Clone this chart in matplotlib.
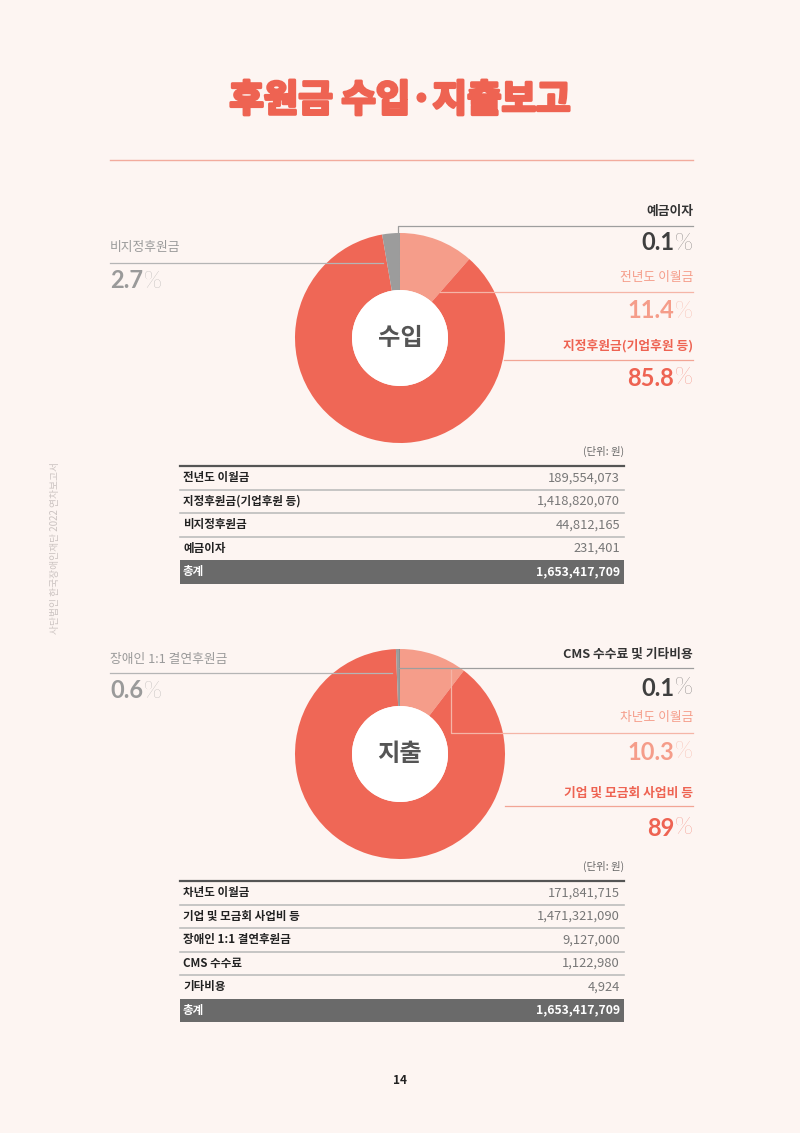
import matplotlib
matplotlib.use('Agg')
import matplotlib.pyplot as plt
import matplotlib.patheffects as pe
from matplotlib.patches import Circle, Rectangle

# ---------------- data ----------------
title = '후원금 수입·지출보고'
side_text = '사단법인 한국장애인재단 2022 연차보고서'
unit_text = '(단위: 원)'
page_no = '14'

income_center = '수입'
income_labels = ['전년도 이월금', '지정후원금(기업후원 등)', '비지정후원금', '예금이자']
income_values = [189554073, 1418820070, 44812165, 231401]
income_total = 1653417709
income_pcts = ['11.4', '85.8', '2.7', '0.1']

expense_center = '지출'
expense_table_labels = ['차년도 이월금', '기업 및 모금회 사업비 등', '장애인 1:1 결연후원금',
                        'CMS 수수료', '기타비용']
expense_table_values = [171841715, 1471321090, 9127000, 1122980, 4924]
expense_total = 1653417709
expense_pie_labels = ['차년도 이월금', '기업 및 모금회 사업비 등', '장애인 1:1 결연후원금',
                      'CMS 수수료 및 기타비용']
expense_pie_values = expense_table_values[:3] + [expense_table_values[3] + expense_table_values[4]]
expense_pcts = ['10.3', '89', '0.6', '0.1']

# ---------------- style ----------------
BG = '#FDF5F2'
RED = '#EF6756'
SALMON = '#F59D8A'
GRAY = '#9C9C9C'
DARK = '#474747'
TITLE_C = '#EE6352'
KR = ['Noto Sans CJK KR', 'DejaVu Sans']
NUM = ['Lato', 'Noto Sans CJK KR', 'DejaVu Sans']

W, H = 800, 1133
fig = plt.figure(figsize=(W / 100, H / 100), dpi=100, facecolor=BG)
ax = fig.add_axes([0, 0, 1, 1])
ax.set_facecolor(BG)
renderer = fig.canvas.get_renderer()

# title + rule
ax.text(400, 100, title, ha='center', va='center', fontsize=27, fontweight='heavy',
        color=TITLE_C, family=KR,
        path_effects=[pe.Stroke(linewidth=2.2, foreground=TITLE_C), pe.Normal()])
ax.plot([110, 693], [160, 160], color='#F2AB9D', lw=1)

# side vertical text
ax.text(55, 548, side_text, rotation=90, ha='center', va='center', fontsize=7,
        color='#CBC3C1', family=KR)


def pct_text(x, y, num, color, align='right', size=17):
    if align == 'right':
        t = ax.text(x, y, '%', ha='right', va='center', fontsize=size, fontweight='light',
                    color=color, family=NUM)
        w = t.get_window_extent(renderer=renderer).width
        ax.text(x - w - 1, y, num, ha='right', va='center', fontsize=size,
                fontweight='bold', color=color, family=NUM)
    else:
        t = ax.text(x, y, num, ha='left', va='center', fontsize=size, fontweight='bold',
                    color=color, family=NUM)
        w = t.get_window_extent(renderer=renderer).width
        ax.text(x + w + 1, y, '%', ha='left', va='center', fontsize=size,
                fontweight='light', color=color, family=NUM)


def label_text(x, y, s, color, ha, weight='bold'):
    ax.text(x, y, s, ha=ha, va='center', fontsize=9.2, fontweight=weight, color=color,
            family=KR)


def donut(cx, cy, values, colors, center_label):
    ax.pie(values, colors=colors, center=(cx, cy), radius=105, startangle=-90,
           counterclock=True, frame=True,
           wedgeprops=dict(width=57, linewidth=0))
    ax.add_patch(Circle((cx, cy), 48, facecolor='white', edgecolor='none', zorder=3))
    ax.text(cx, cy, center_label, ha='center', va='center', fontsize=17.5,
            fontweight='bold', color='#555555', family=KR, zorder=4)


def table(top, labels, values, total):
    row_h = 23.5
    ax.text(624, top - 15, unit_text, ha='right', va='center', fontsize=7.5,
            color='#666666', family=KR)
    n = len(labels)
    for i, (lab, val) in enumerate(zip(labels, values)):
        yc = top + (i + 0.5) * row_h
        ax.text(183, yc, lab, ha='left', va='center', fontsize=8.3, fontweight='bold',
                color='#222222', family=KR)
        ax.text(620, yc, f'{val:,}', ha='right', va='center', fontsize=9.3,
                color='#777777', family=KR)
        if i > 0:
            ax.plot([180, 624], [top + i * row_h] * 2, color='#BDBDBD', lw=1.2)
    ax.plot([180, 624], [top, top], color='#555555', lw=1.6)
    ty = top + n * row_h
    ax.add_patch(Rectangle((180, ty), 444, row_h, facecolor='#6A6A6A', edgecolor='none'))
    ax.text(183, ty + row_h / 2, '총계', ha='left', va='center', fontsize=8.3,
            fontweight='bold', color='white', family=KR)
    ax.text(620, ty + row_h / 2, f'{total:,}', ha='right', va='center', fontsize=8.8,
            fontweight='bold', color='white', family=KR)


# ---------------- income ----------------
inc_colors = [SALMON, RED, GRAY, DARK]
donut(400, 338, income_values, inc_colors, income_center)

# leader lines
ax.plot([398, 398, 693], [234, 226, 226], color='#9E9E9E', lw=0.9, zorder=5)
ax.plot([440, 693], [292, 292], color='#F5B5A7', lw=0.9, zorder=5)
ax.plot([504, 693], [360, 360], color='#F2A595', lw=0.9, zorder=5)
ax.plot([110, 383], [263, 263], color='#B5B5B5', lw=0.9, zorder=5)

label_text(693, 211, income_labels[3], '#333333', 'right')
pct_text(693, 243, income_pcts[3], '#3F3F3F')
label_text(693, 277, income_labels[0], '#F59D8A', 'right', 'medium')
pct_text(693, 311, income_pcts[0], '#F59D8A')
label_text(693, 346, income_labels[1], '#EE6352', 'right')
pct_text(693, 378, income_pcts[1], '#EE6352')
label_text(110, 248, income_labels[2], '#9A9A9A', 'left', 'medium')
pct_text(110, 281, income_pcts[2], '#9A9A9A', align='left')

table(466, income_labels, income_values, income_total)

# ---------------- expense ----------------
exp_colors = [SALMON, RED, GRAY, DARK]
donut(400, 754, expense_pie_values, exp_colors, expense_center)

ax.plot([398, 693], [668, 668], color='#9E9E9E', lw=0.9, zorder=5)
ax.plot([451, 451, 693], [670, 733, 733], color='#F5B5A7', lw=0.9, zorder=5)
ax.plot([505, 693], [806, 806], color='#F2A595', lw=0.9, zorder=5)
ax.plot([110, 392], [673, 673], color='#B5B5B5', lw=0.9, zorder=5)

label_text(693, 654, expense_pie_labels[3], '#333333', 'right')
pct_text(693, 688, expense_pcts[3], '#3F3F3F')
label_text(693, 718, expense_pie_labels[0], '#F59D8A', 'right', 'medium')
pct_text(693, 752, expense_pcts[0], '#F59D8A')
label_text(693, 793, expense_pie_labels[1], '#EE6352', 'right')
pct_text(693, 828, expense_pcts[1], '#EE6352')
label_text(110, 659, expense_pie_labels[2], '#9A9A9A', 'left', 'medium')
pct_text(110, 691, expense_pcts[2], '#9A9A9A', align='left')

table(881, expense_table_labels, expense_table_values, expense_total)

ax.text(400, 1080, page_no, ha='center', va='center', fontsize=8.5, fontweight='bold',
        color='#222222', family=KR)

ax.set_xlim(0, W)
ax.set_ylim(H, 0)
ax.set_aspect('auto')
ax.axis('off')

fig.savefig('out.png', dpi=100, facecolor=BG)
